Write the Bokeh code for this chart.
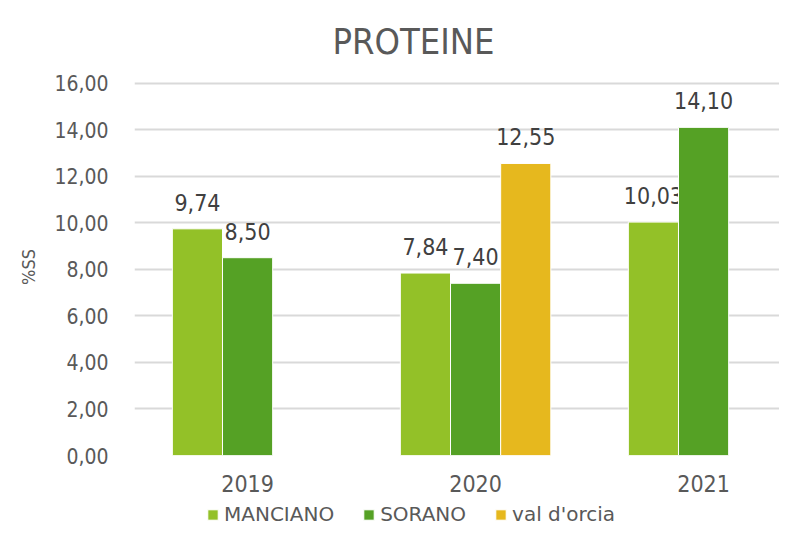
from bokeh.plotting import figure
from bokeh.layouts import column
from bokeh.models import (ColumnDataSource, Range1d, FixedTicker, Legend, LegendItem)
from bokeh.transform import dodge
from bokeh.core.properties import value
from bokeh.embed import file_html
from bokeh.resources import INLINE
import math

years = ["2019", "2020", "2021"]
manciano = [9.74, 7.84, 10.03]
sorano = [8.50, 7.40, 14.10]
val_orcia = [float("nan"), 12.55, float("nan")]
series_names = ["MANCIANO", "SORANO", "val d'orcia"]
colors = ["#93C128", "#55A125", "#E6B81E"]
y_ticks = [0, 2, 4, 6, 8, 10, 12, 14, 16]
y_tick_labels = ["0,00", "2,00", "4,00", "6,00", "8,00", "10,00", "12,00", "14,00", "16,00"]

FONT = "DejaVu Sans Condensed"
FONT_W = "DejaVu Sans"


def fmt(v):
    return "" if (v is None or (isinstance(v, float) and math.isnan(v))) else f"{v:.2f}".replace(".", ",")


xpos = [i + 0.5 for i in range(len(years))]
src = ColumnDataSource(dict(
    x=xpos,
    m=manciano, s=sorano, v=val_orcia,
    ml=[fmt(v) for v in manciano], sl=[fmt(v) for v in sorano], vl=[fmt(v) for v in val_orcia],
))

p = figure(width=779, height=500, output_backend="svg", toolbar_location=None,
           x_range=Range1d(0.004, 2.833), y_range=Range1d(0, 16.2),
           min_border_left=134, min_border_right=0, min_border_top=78, min_border_bottom=45)
p.outline_line_color = None
p.background_fill_color = "white"
p.border_fill_color = "white"

p.title.text = "PROTEINE"
p.title.text_font = FONT
p.title.text_font_size = "36px"
p.title.text_font_style = "normal"
p.title.text_color = "#595959"
p.title.align = "left"
p.title.vertical_align = "top"
p.title.offset = 198
p.title.standoff = 30

keys = ["m", "s", "v"]
lbls = ["ml", "sl", "vl"]
offs = [-0.22, 0.0, 0.22]
for k, lk, off, col in zip(keys, lbls, offs, colors):
    p.vbar(x=dodge("x", off), top=k, width=0.22, source=src,
           fill_color=col, line_color="white", line_width=1)
    p.text(x=dodge("x", off), y=k, text=lk, source=src, text_align="center",
           text_baseline="bottom", y_offset=-18, text_font=value(FONT),
           text_font_size="23px", text_color="#404040")

# axes
p.yaxis.ticker = FixedTicker(ticks=y_ticks)
p.yaxis.major_label_overrides = {t: l for t, l in zip(y_ticks, y_tick_labels)}
p.yaxis.axis_line_color = None
p.yaxis.major_tick_line_color = None
p.yaxis.minor_tick_line_color = None
p.yaxis.major_label_standoff = 20
p.yaxis.major_label_text_font = FONT
p.yaxis.major_label_text_font_size = "21px"
p.yaxis.major_label_text_color = "#595959"
p.yaxis.axis_label = "%SS"
p.yaxis.axis_label_text_font = FONT
p.yaxis.axis_label_text_font_size = "18px"
p.yaxis.axis_label_text_font_style = "normal"
p.yaxis.axis_label_text_color = "#595959"
p.yaxis.axis_label_standoff = 12

p.xaxis.ticker = FixedTicker(ticks=xpos)
p.xaxis.major_label_overrides = {x: y for x, y in zip(xpos, years)}
p.xaxis.axis_line_color = None
p.xaxis.major_tick_line_color = None
p.xaxis.minor_tick_line_color = None
p.xaxis.major_label_standoff = 13
p.xaxis.major_label_text_font = FONT
p.xaxis.major_label_text_font_size = "23px"
p.xaxis.major_label_text_color = "#595959"

p.xgrid.grid_line_color = None
p.ygrid.grid_line_color = "#D9D9D9"
p.ygrid.grid_line_width = 2

# legend in a separate strip below the chart (bars fall below its visible y-range)
lf = figure(width=779, height=30, output_backend="svg", toolbar_location=None,
            x_range=Range1d(0, 1), y_range=Range1d(100, 101), min_border=0)
lf.outline_line_color = None
lf.axis.visible = False
lf.grid.grid_line_color = None
items = []
for k, off, n, col in zip(keys, offs, series_names, colors):
    r = lf.vbar(x=dodge("x", off), top=k, width=0.1, source=src,
                fill_color=col, line_color="white", line_width=1)
    items.append(LegendItem(label=n, renderers=[r]))
legend = Legend(items=items, orientation="horizontal", location=(72, 4),
                glyph_width=13, glyph_height=13, label_standoff=5, spacing=28, label_height=21,
                label_text_font=FONT_W, label_text_font_size="20px", label_text_color="#595959",
                border_line_color=None, background_fill_alpha=0, padding=0, margin=0)
lf.add_layout(legend, "center")

layout = column(p, lf, spacing=0)
open("out.html", "w").write(file_html(layout, INLINE))
